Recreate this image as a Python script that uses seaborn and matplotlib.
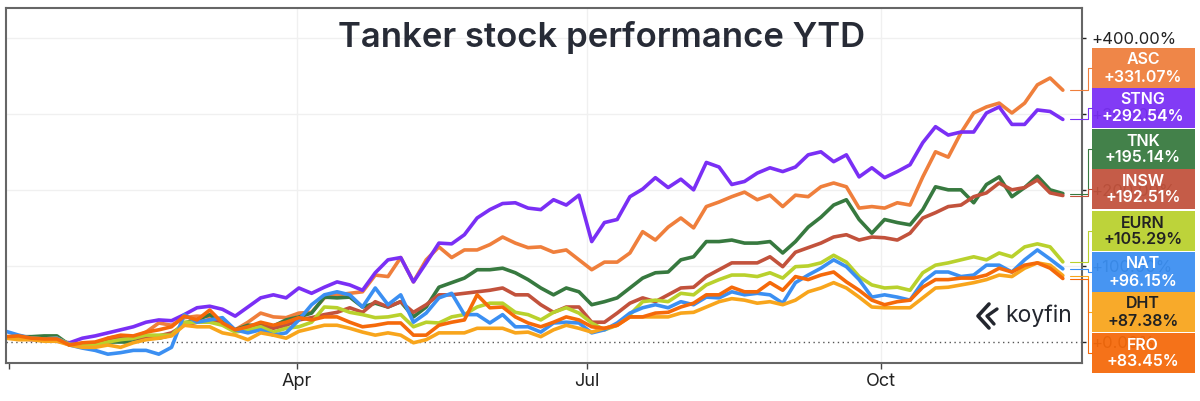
import pandas as pd
import matplotlib
matplotlib.use('Agg')
import matplotlib.pyplot as plt
import matplotlib.dates as mdates
from matplotlib.patches import Rectangle
import seaborn as sns

# # # DATA (percent change YTD)
dates = pd.date_range('2021-12-31', '2022-11-27', periods=84)

asc = [5, 5, 5, 7, 3, -4, -4, -4, 5, 8, 5, 13, 25, 22, 32, 34, 33, 25, 16, 26, 38, 33, 32, 38,
       39, 58, 62, 64, 66, 88, 86, 111, 79, 108, 125, 111, 121, 121, 128, 138, 130, 124, 125, 118, 121, 108, 95, 105,
       105, 117, 145, 134, 151, 163, 150, 178, 184, 191, 197, 187, 193, 178, 193, 191, 204, 209, 204, 176, 178, 176, 183, 180,
       217, 250, 243, 275, 301, 309, 314, 301, 314, 338, 347, 331]
stng = [7, 5, 3, 4, 1, -1, 5, 8, 12, 16, 20, 26, 29, 28, 36, 45, 47, 43, 34, 46, 58, 62, 58, 71,
        64, 72, 79, 75, 68, 91, 108, 111, 79, 104, 130, 129, 141, 163, 174, 182, 183, 176, 174, 187, 180, 193, 132, 157,
        161, 191, 201, 216, 203, 214, 200, 236, 230, 207, 211, 222, 229, 224, 230, 246, 250, 237, 246, 217, 229, 216, 224, 233,
        262, 283, 272, 276, 276, 301, 309, 286, 286, 305, 303, 292.54]
tnk = [5, 7, 7, 8, 8, -4, -5, -4, 0, 0, 0, 5, 5, 9, 25, 29, 36, 26, 16, 22, 22, 21, 29, 33,
       38, 59, 58, 59, 46, 51, 46, 53, 33, 46, 72, 78, 84, 95, 95, 97, 91, 82, 71, 62, 71, 66, 49, 53,
       58, 71, 84, 91, 92, 108, 112, 132, 132, 134, 130, 130, 132, 117, 132, 151, 164, 180, 187, 161, 143, 161, 157, 154,
       174, 204, 200, 200, 183, 207, 217, 191, 203, 218, 200, 195.14]
insw = [5, 8, 5, 4, 5, -4, -4, -3, 3, 5, 5, 7, 8, 12, 22, 26, 29, 25, 16, 18, 21, 18, 22, 29,
        32, 36, 39, 45, 39, 53, 46, 53, 39, 49, 62, 62, 64, 66, 68, 71, 62, 62, 49, 39, 46, 46, 26, 26,
        38, 51, 58, 53, 62, 71, 72, 86, 95, 104, 104, 104, 112, 99, 118, 124, 130, 138, 141, 134, 138, 137, 134, 143,
        163, 170, 178, 180, 191, 196, 209, 200, 203, 213, 196, 192.51]
eurn = [5, 7, 5, 4, 5, -3, -4, -4, 0, 3, 5, 9, 9, 9, 26, 26, 26, 22, 13, 16, 20, 13, 18, 20,
        26, 46, 45, 39, 36, 32, 33, 36, 20, 26, 25, 33, 36, 46, 51, 51, 39, 36, 29, 39, 45, 38, 25, 16,
        22, 36, 53, 55, 53, 64, 62, 75, 82, 88, 88, 86, 91, 84, 99, 100, 104, 114, 105, 86, 75, 71, 72, 68,
        91, 101, 104, 108, 112, 108, 117, 112, 125, 129, 125, 105.29]
nat = [14, 9, 5, 4, 5, -4, -8, -11, -16, -14, -11, -11, -16, -7, 36, 26, 29, 32, 16, 12, 16, 9, 12, 29,
       49, 62, 66, 62, 46, 71, 49, 62, 26, 38, 58, 64, 36, 36, 25, 36, 20, 20, 13, 25, 26, 25, 12, 16,
       25, 38, 45, 49, 45, 53, 49, 59, 58, 66, 62, 64, 62, 51, 78, 88, 97, 108, 99, 82, 59, 62, 59, 55,
       79, 92, 92, 86, 88, 101, 101, 92, 108, 121, 109, 96.15]
dht = [5, 3, 3, 1, 1, -4, -7, -7, -4, -7, -1, 3, 5, 8, 22, 20, 20, 12, 9, 3, 12, 9, 5, 14,
       18, 22, 22, 18, 13, 9, 12, 9, -1, 3, 12, 12, 12, 18, 18, 18, 12, 13, 7, 16, 22, 18, 13, 18,
       22, 33, 33, 33, 33, 38, 39, 46, 53, 57, 55, 51, 53, 49, 55, 66, 71, 78, 71, 59, 46, 45, 45, 45,
       58, 71, 72, 75, 78, 82, 88, 86, 97, 104, 101, 87.38]
fro = [7, 8, 5, 4, 4, -4, -1, 0, 5, 9, 8, 13, 16, 20, 34, 29, 42, 25, 16, 20, 26, 22, 26, 32,
       29, 33, 33, 26, 20, 22, 25, 25, 9, 9, 22, 26, 29, 62, 45, 46, 33, 25, 20, 26, 33, 29, 20, 18,
       22, 33, 33, 38, 39, 46, 51, 62, 62, 72, 66, 66, 78, 68, 86, 82, 88, 92, 79, 68, 55, 49, 53, 55,
       72, 82, 82, 84, 84, 88, 97, 92, 101, 104, 97, 83.45]

tickers = ['ASC', 'STNG', 'TNK', 'INSW', 'EURN', 'NAT', 'DHT', 'FRO']
changes = ['+331.07%', '+292.54%', '+195.14%', '+192.51%', '+105.29%', '+96.15%', '+87.38%', '+83.45%']
colors = ['#ef7f3c', '#7a2ff5', '#37793f', '#c2523c', '#b9d12d', '#3b8ff2', '#f8a51c', '#f5690a']
text_colors = ['white', 'white', 'white', 'white', '#222222', 'white', '#222222', 'white']
# top edge of each tag, in pixels
tag_tops = [48, 88, 129, 169, 211, 252, 292, 333]
y_ticks = [0, 100, 200, 300, 400]
y_labels = ['+0.00%', '+100.00%', '+200.00%', '+300.00%', '+400.00%']

df = pd.DataFrame({'date': dates, 'ASC': asc, 'STNG': stng, 'TNK': tnk, 'INSW': insw,
                   'EURN': eurn, 'NAT': nat, 'DHT': dht, 'FRO': fro})
df = df.melt(id_vars='date', var_name='ticker', value_name='change')

# # # FIGURE
sns.set_theme(style='white')
plt.rcParams['font.family'] = ['Inter', 'DejaVu Sans']

W, H = 1200, 401
fig = plt.figure(figsize=(W / 100, H / 100), dpi=100)
ax = fig.add_axes([6 / W, 1 - 363 / H, (1082 - 6) / W, (363 - 8) / H])

sns.lineplot(data=df, x='date', y='change', hue='ticker', hue_order=tickers,
             palette=colors, linewidth=2.6, errorbar=None, legend=False, ax=ax)

ax.set_xlim(pd.Timestamp('2021-12-31'), pd.Timestamp('2022-12-03'))
ax.set_ylim(-27.6, 439)
ax.set_xlabel('')
ax.set_ylabel('')

# Grid and the dotted zero line
for v in y_ticks[1:]:
    ax.axhline(v, color='#f0f0f0', lw=1, zorder=0)
ax.axhline(0, color='#555555', lw=1, ls=(0, (1, 2.5)), zorder=0)
for m in ['2022-04-01', '2022-07-01', '2022-10-01']:
    ax.axvline(pd.Timestamp(m), color='#f0f0f0', lw=1, zorder=0)

for s in ax.spines.values():
    s.set_color('#666666')
    s.set_linewidth(1.5)

# Ticks
ax.set_xticks([pd.Timestamp('2022-01-01'), pd.Timestamp('2022-04-01'),
               pd.Timestamp('2022-07-01'), pd.Timestamp('2022-10-01')])
ax.xaxis.set_major_formatter(mdates.DateFormatter('%b'))
ax.set_xticklabels(['', 'Apr', 'Jul', 'Oct'])
ax.tick_params(axis='x', bottom=True, length=4, width=1, color='#444444', labelsize=13,
               labelcolor='#222222', pad=3)
ax.yaxis.tick_right()
ax.set_yticks(y_ticks)
ax.set_yticklabels(y_labels)
ax.tick_params(axis='y', right=True, length=3, width=1, color='#222222', labelsize=12,
               labelcolor='#222222', pad=4)

# Tags on the right, slightly see through like the reference
for tick, chg, col, tcol, top in zip(tickers, changes, colors, text_colors, tag_tops):
    fig.add_artist(Rectangle((1092 / W, 1 - (top + 40) / H), 103 / W, 40 / H, transform=fig.transFigure,
                             facecolor=col, edgecolor='none', alpha=0.94, zorder=5))
    fig.text(1143 / W, 1 - (top + 12) / H, tick, ha='center', va='center', color=tcol,
             fontsize=11.5, fontweight='semibold', zorder=6)
    fig.text(1143 / W, 1 - (top + 29) / H, chg, ha='center', va='center', color=tcol,
             fontsize=11.5, fontweight='semibold', zorder=6)

# Thin stepped connectors from the last point to each tag
last = df[df['date'] == dates[-1]].set_index('ticker')['change']
for tick, col, top in zip(tickers, colors, tag_tops):
    y0 = ax.transData.transform((0, last[tick]))[1] / H
    y1 = 1 - (top + 20) / H
    fig.add_artist(plt.Line2D([1070 / W, 1088 / W, 1088 / W, 1092 / W], [y0, y0, y1, y1],
                              color=col, lw=0.8, zorder=4))

# Title and logo
fig.text(602 / W, 1 - 38 / H, 'Tanker stock performance YTD', ha='center', va='center',
         color='#272b36', fontsize=25, fontweight='semibold')
logo = '#23262e'
fig.add_artist(plt.Line2D([989 / W, 978 / W, 989 / W], [1 - 304 / H, 1 - 316 / H, 1 - 328 / H], color=logo, lw=2.6))
fig.add_artist(plt.Line2D([997 / W, 987 / W, 994 / W], [1 - 309 / H, 1 - 316 / H, 1 - 324 / H], color=logo, lw=2.4))
fig.text(1005 / W, 1 - 322 / H, 'koyfin', ha='left', va='baseline', color=logo, fontsize=16.5)

fig.savefig('out.png', dpi=100)
